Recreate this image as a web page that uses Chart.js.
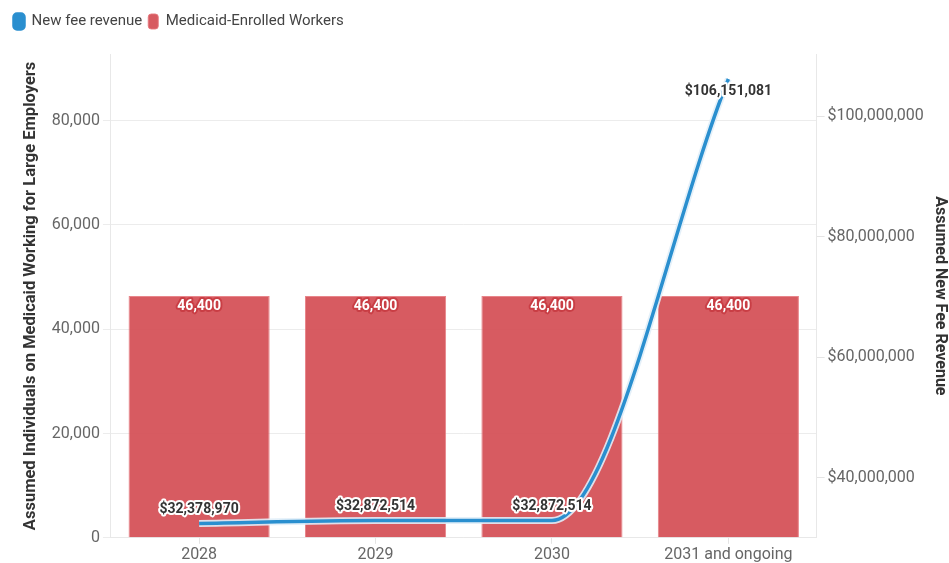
<!DOCTYPE html>
<html>
<head>
<meta charset="utf-8">
<script src="https://cdn.jsdelivr.net/npm/chart.js@4.4.0/dist/chart.umd.min.js"></script>
<style>
  html, body { margin: 0; padding: 0; background: #fff; overflow: hidden; }
  #wrap { position: relative; width: 966px; height: 563px; }
</style>
</head>
<body>
<div id="wrap"><canvas id="chart"></canvas></div>
<script>
/* ── Data ─────────────────────────────────────────────────────────── */
const years = ['2028', '2029', '2030', '2031 and ongoing'];
const workers = [46400, 46400, 46400, 46400];
const feeRevenue = [32378970, 32872514, 32872514, 106151081];
const leftTicks = [0, 20000, 40000, 60000, 80000];
const rightTicks = [40000000, 60000000, 80000000, 100000000];

const BLUE = '#2a8fcf';
const RED = 'rgba(213, 82, 88, 0.95)';
const FONT = 'Roboto, "Noto Sans", sans-serif';

const fmtNum = v => v.toLocaleString('en-US');
const fmtUsd = v => '$' + v.toLocaleString('en-US');

/* ── Extra space under the legend ─────────────────────────────────── */
const legendGap = {
    id: 'legendGap',
    beforeInit(chart) {
        const fit = chart.legend.fit;
        chart.legend.fit = function () {
            fit.bind(chart.legend)();
            this.height += 15;
        };
    }
};

/* ── Label plugin (no datalabels available) ───────────────────────── */
const labelPlugin = {
    id: 'valueLabels',
    afterDatasetsDraw(chart) {
        const c = chart.ctx;
        c.save();
        c.font = 'bold 14px ' + FONT;
        c.textAlign = 'center';
        c.textBaseline = 'middle';
        c.lineJoin = 'round';

        // bar labels, white on red halo
        chart.getDatasetMeta(1).data.forEach((bar, i) => {
            const txt = fmtNum(workers[i]);
            c.lineWidth = 4;
            c.strokeStyle = 'rgba(200, 60, 66, 0.9)';
            c.strokeText(txt, bar.x, bar.y + 11);
            c.fillStyle = '#fff';
            c.fillText(txt, bar.x, bar.y + 11);
        });

        // line labels, dark on white halo
        chart.getDatasetMeta(0).data.forEach((pt, i) => {
            const txt = fmtUsd(feeRevenue[i]);
            const y = i === feeRevenue.length - 1 ? pt.y + 13 : pt.y - 14;
            c.lineWidth = 4;
            c.strokeStyle = '#fff';
            c.strokeText(txt, pt.x, y);
            c.fillStyle = '#333';
            c.fillText(txt, pt.x, y);
        });
        c.restore();
    }
};

/* ── Chart ────────────────────────────────────────────────────────── */
const ctx = document.getElementById('chart').getContext('2d');
new Chart(ctx, {
    type: 'bar',
    data: {
        labels: years,
        datasets: [
            {
                type: 'line', label: 'New fee revenue', data: feeRevenue, yAxisID: 'y1',
                borderColor: BLUE, backgroundColor: BLUE, borderWidth: 3.5,
                cubicInterpolationMode: 'monotone', pointRadius: 0, order: 0
            },
            {
                type: 'bar', label: 'Medicaid-Enrolled Workers', data: workers, yAxisID: 'y',
                backgroundColor: RED, borderColor: 'rgba(230, 120, 125, 0.9)', borderWidth: 1,
                categoryPercentage: 1, barPercentage: 0.8, order: 2
            },
            {
                type: 'line', label: 'halo', data: feeRevenue, yAxisID: 'y1',
                borderColor: 'rgba(225, 238, 248, 0.9)', borderWidth: 7,
                cubicInterpolationMode: 'monotone', pointRadius: 0, order: 1
            }
        ]
    },
    options: {
        responsive: true,
        maintainAspectRatio: false,
        animation: false,
        layout: { padding: { left: 8, right: 0, top: 8, bottom: -4 } },
        plugins: {
            legend: {
                align: 'start',
                labels: {
                    filter: item => item.datasetIndex !== 2,
                    boxWidth: 10, boxHeight: 15, useBorderRadius: true, borderRadius: 3,
                    color: '#444', font: { family: FONT, size: 15 }, padding: 6
                }
            },
            tooltip: { enabled: false }
        },
        scales: {
            x: {
                offset: true,
                grid: { offset: false, drawOnChartArea: false, color: '#e4e4e4', tickLength: 6 },
                border: { color: '#e8e8e8' },
                ticks: { color: '#666', font: { family: FONT, size: 16 }, padding: 2 }
            },
            y: {
                position: 'left', min: 0, max: 92800,
                afterBuildTicks: axis => { axis.ticks = leftTicks.map(v => ({ value: v })); },
                grid: { color: '#ececec', tickLength: 8 },
                border: { color: '#e8e8e8' },
                ticks: { color: '#666', font: { family: FONT, size: 16 }, callback: v => fmtNum(v) },
                title: {
                    display: true, text: 'Assumed Individuals on Medicaid Working for Large Employers',
                    color: '#333', font: { family: FONT, size: 16.5, weight: 'bold' }, padding: { top: 13, bottom: 8 }
                }
            },
            y1: {
                position: 'right', min: 30000000, max: 110300000,
                afterBuildTicks: axis => { axis.ticks = rightTicks.map(v => ({ value: v })); },
                grid: { drawOnChartArea: false, color: '#e4e4e4', tickLength: 8 },
                border: { color: '#e8e8e8' },
                ticks: { color: '#666', font: { family: FONT, size: 16 }, callback: v => fmtUsd(v) },
                title: {
                    display: true, text: 'Assumed New Fee Revenue',
                    color: '#333', font: { family: FONT, size: 16, weight: 'bold' }, padding: { top: 16 }
                }
            }
        }
    },
    plugins: [legendGap, labelPlugin]
});
</script>
</body>
</html>
